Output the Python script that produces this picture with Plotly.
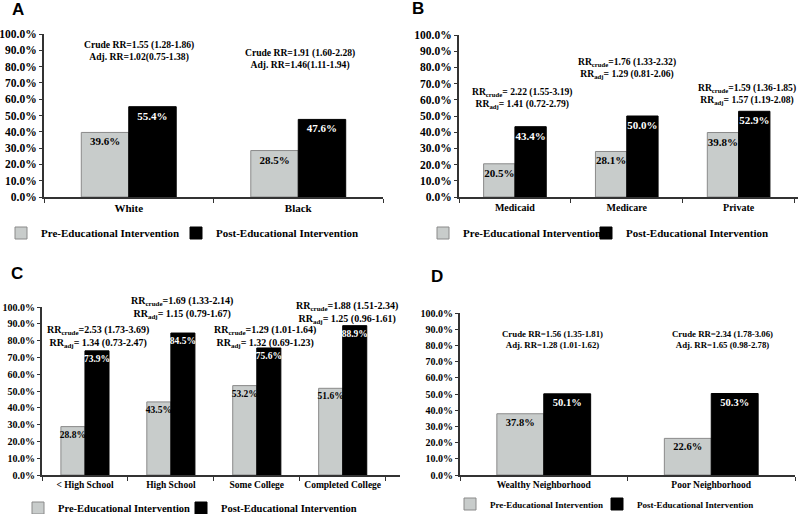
import plotly.graph_objects as go

# ---------------- data ----------------
cat_a = ["White", "Black"]
pre_a = [39.6, 28.5]
post_a = [55.4, 47.6]
ann_a = ["Crude RR=1.55 (1.28-1.86)<br>Adj. RR=1.02(0.75-1.38)",
         "Crude RR=1.91 (1.60-2.28)<br>Adj. RR=1.46(1.11-1.94)"]

cat_b = ["Medicaid", "Medicare", "Private"]
pre_b = [20.5, 28.1, 39.8]
post_b = [43.4, 50.0, 52.9]
ann_b = ["RR<sub>crude</sub>= 2.22 (1.55-3.19)<br>RR<sub>adj</sub>= 1.41 (0.72-2.79)",
         "RR<sub>crude</sub>=1.76 (1.33-2.32)<br>RR<sub>adj</sub>= 1.29 (0.81-2.06)",
         "RR<sub>crude</sub>=1.59 (1.36-1.85)<br>RR<sub>adj</sub>= 1.57 (1.19-2.08)"]

cat_c = ["< High School", "High School", "Some College", "Completed College"]
pre_c = [28.8, 43.5, 53.2, 51.6]
post_c = [73.9, 84.5, 75.6, 88.9]
ann_c = ["RR<sub>crude</sub>=2.53 (1.73-3.69)<br>RR<sub>adj</sub>= 1.34 (0.73-2.47)",
         "RR<sub>crude</sub>=1.69 (1.33-2.14)<br>RR<sub>adj</sub>= 1.15 (0.79-1.67)",
         "RR<sub>crude</sub>=1.29 (1.01-1.64)<br>RR<sub>adj</sub>= 1.32 (0.69-1.23)",
         "RR<sub>crude</sub>=1.88 (1.51-2.34)<br>RR<sub>adj</sub>= 1.25 (0.96-1.61)"]

cat_d = ["Wealthy Neighborhood", "Poor Neighborhood"]
pre_d = [37.8, 22.6]
post_d = [50.1, 50.3]
ann_d = ["Crude RR=1.56 (1.35-1.81)<br>Adj. RR=1.28 (1.01-1.62)",
         "Crude RR=2.34 (1.78-3.06)<br>Adj. RR=1.65 (0.98-2.78)"]

series_names = ["Pre-Educational Intervention", "Post-Educational Intervention"]
y_ticks = list(range(0, 101, 10))

# ---------------- styling ----------------
W, H = 800, 514
SERIF = "Liberation Serif"
PRE_FILL = "#c8cccb"
PRE_LINE = "#8a8a8a"
POST_FILL = "#000000"

panels = [
    dict(cats=cat_a, pre=pre_a, post=post_a, anns=ann_a,
         ann_pos=[(0.06, 89.6), (1.01, 84.7)],
         xpx=(44, 383), ypx=(197, 34), tick=11.5, cat=11, bar=11, ann=9.6,
         leg=[(1, 233), (176, 233)], legsize=11, label="A", lab=(17.5, 9)),
    dict(cats=cat_b, pre=pre_b, post=post_b, anns=ann_b,
         ann_pos=[(0.066, 61.0), (1.0, 79.6), (2.075, 63.6)],
         xpx=(459, 798), ypx=(197, 35), tick=11.5, cat=10, bar=11, ann=9.6,
         leg=[(423, 233), (586, 233)], legsize=11, label="B", lab=(418.5, 8.5)),
    dict(cats=cat_c, pre=pre_c, post=post_c, anns=ann_c,
         ann_pos=[(0.148, 82.4), (1.126, 99.7), (2.09, 82.4), (3.05, 96.7)],
         xpx=(42, 400), ypx=(475, 307), tick=10, cat=9.5, bar=9.5, ann=10,
         leg=[(18, 508), (181, 508)], legsize=10.5, label="C", lab=(16.5, 273.5)),
    dict(cats=cat_d, pre=pre_d, post=post_d, anns=ann_d,
         ann_pos=[(0.052, 83.6), (1.067, 83.6)],
         xpx=(460, 795), ypx=(475, 313), tick=10, cat=9.5, bar=10.5, ann=8.8,
         leg=[(450, 504), (597, 504)], legsize=9, label="D", lab=(437, 276)),
]

fig = go.Figure()
layout = dict(
    template="none",
    width=W, height=H,
    margin=dict(l=0, r=0, t=0, b=0, autoexpand=False),
    paper_bgcolor="white", plot_bgcolor="white",
    barmode="group", bargap=0.44, bargroupgap=0,
    showlegend=True,
    annotations=[],
)

leg_count = 0
for i, p in enumerate(panels):
    n = "" if i == 0 else str(i + 1)
    xa, ya = "x" + n, "y" + n
    for s, (vals, fill, line, tcol) in enumerate([
            (p["pre"], PRE_FILL, PRE_LINE, "black"),
            (p["post"], POST_FILL, POST_FILL, "white")]):
        leg_count += 1
        leg = "legend" if leg_count == 1 else f"legend{leg_count}"
        fig.add_trace(go.Bar(
            x=p["cats"], y=vals, name=series_names[s],
            xaxis=xa, yaxis=ya, legend=leg, showlegend=True,
            marker=dict(color=fill, line=dict(color=line, width=1)),
            texttemplate="%{y:.1f}%", textposition="inside",
            insidetextanchor="end", textangle=0, constraintext="none",
            textfont=dict(family=SERIF, size=p["bar"], color=tcol, weight="bold"),
            hoverinfo="skip",
        ))
        lx, ly = p["leg"][s]
        layout[leg] = dict(
            orientation="h", x=lx / W, y=1 - ly / H, xanchor="left", yanchor="middle",
            font=dict(family=SERIF, size=p["legsize"], color="black", weight="bold"),
            bgcolor="rgba(0,0,0,0)", itemwidth=30, itemclick=False,
            visible=True,
        )
    x0, x1 = p["xpx"]
    yb, yt = p["ypx"]
    layout["xaxis" + n] = dict(
        domain=[x0 / W, x1 / W], anchor=ya, type="category", automargin=False,
        showline=True, linecolor="#333333", linewidth=2, tickangle=0,
        ticks="outside", tickson="boundaries", ticklen=4, tickcolor="#333333",
        tickfont=dict(family=SERIF, size=p["cat"], color="black", weight="bold"),
        showgrid=False, zeroline=False, fixedrange=True,
    )
    layout["yaxis" + n] = dict(
        domain=[1 - yb / H, 1 - yt / H], anchor=xa, automargin=False,
        range=[0, 100], tickvals=y_ticks,
        ticktext=[f"{v:.1f}%" for v in y_ticks],
        showline=True, linecolor="#333333", linewidth=2,
        ticks="outside", ticklen=3, tickcolor="#333333",
        tickfont=dict(family=SERIF, size=p["tick"], color="black", weight="bold"),
        showgrid=False, zeroline=False, fixedrange=True,
    )
    for (cx, cy), txt in zip(p["ann_pos"], p["anns"]):
        layout["annotations"].append(dict(
            x=cx, y=cy, xref=xa, yref=ya, text=txt, showarrow=False,
            font=dict(family=SERIF, size=p["ann"], color="black", weight="bold"),
            align="center", xanchor="center", yanchor="middle",
        ))
    lxp, lyp = p["lab"]
    layout["annotations"].append(dict(
        x=lxp / W, y=1 - lyp / H, xref="paper", yref="paper", text=p["label"],
        showarrow=False, xanchor="center", yanchor="middle",
        font=dict(family="Liberation Sans", size=17, color="black", weight="bold"),
    ))

fig.update_layout(**layout)
fig.write_html(
    "out.html",
    config={"displayModeBar": False},
    post_script="document.body.style.margin='0';document.body.style.padding='0';",
)
